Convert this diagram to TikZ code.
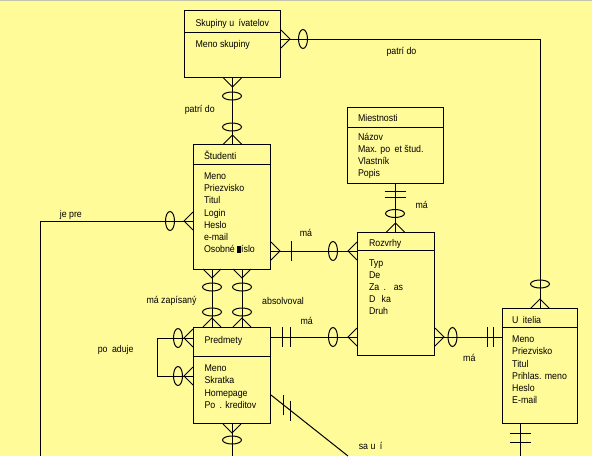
\documentclass[tikz,border=0pt]{standalone}
\usepackage{fontspec}
\setmainfont{Liberation Sans}[FakeStretch=0.9]
\definecolor{bg}{RGB}{255,251,153}
\definecolor{topline}{RGB}{196,196,170}
\newcommand{\gapch}[1]{\phantom{#1}}
\begin{document}
\begin{tikzpicture}[x=1pt,y=-1pt,line width=1pt,
  entity/.style={draw,rectangle,anchor=north west,inner sep=0pt},
  txt/.style={anchor=base west,inner sep=0pt,font=\fontsize{9.8}{12}\selectfont},
  crowL/.pic={\draw (0,-9) -- (9,0) -- (0,9);},
  crowR/.pic={\draw (0,-9) -- (-9,0) -- (0,9);},
  crowU/.pic={\draw (-9,0) -- (0,9) -- (9,0);},
  crowD/.pic={\draw (-9,0) -- (0,-9) -- (9,0);},
  ellV/.pic={\draw (0,0) ellipse [x radius=4.5,y radius=9.5];},
  ellH/.pic={\draw (0,0) ellipse [x radius=9.5,y radius=4];},
  barV/.pic={\draw (0,-10) -- (0,10);},
  barH/.pic={\draw (-10.5,0) -- (10.5,0);}
]
\fill[bg] (0,0) rectangle (592,456);
\useasboundingbox (0,0) rectangle (592,456);
\draw[topline] (0,0.5) -- (592,0.5);

% entities
\node[entity,minimum width=96pt,minimum height=67pt] (skup) at (184,10) {};
\node[entity,minimum width=77pt,minimum height=125pt] (stud) at (193,144) {};
\node[entity,minimum width=96pt,minimum height=76pt] (mies) at (347,107) {};
\node[entity,minimum width=77pt,minimum height=123pt] (rozv) at (357,232) {};
\node[entity,minimum width=77pt,minimum height=96pt] (pred) at (193,327) {};
\node[entity,minimum width=75pt,minimum height=115pt] (ucit) at (502,308) {};

% separators
\draw (skup.west |- 0,32) -- (skup.east |- 0,32);
\draw (stud.west |- 0,164) -- (stud.east |- 0,164);
\draw (mies.west |- 0,127) -- (mies.east |- 0,127);
\draw (rozv.west |- 0,250) -- (rozv.east |- 0,250);
\draw (pred.west |- 0,356) -- (pred.east |- 0,356);
\draw (ucit.west |- 0,327) -- (ucit.east |- 0,327);

% entity texts
\node[txt] (skupT) at (195,26) {Skupiny u\gapch{ž}ívatelov};
\node[txt] (skupA) at (195,47.5) {Meno skupiny};

\node[txt] (studT) at (203.5,159) {Študenti};
\foreach \t [count=\i from 0] in {Meno,Priezvisko,Titul,Login,Heslo,e-mail,{Osobné \rule{3.5pt}{6.5pt}\hspace{0.3pt}íslo}}
  \node[txt] (studA\i) at (203.5,{179.5+12.2*\i}) {\t};

\node[txt] (miesT) at (357.5,121) {Miestnosti};
\foreach \t [count=\i from 0] in {Názov,{Max. po\gapch{č}et štud.},Vlastník,Popis}
  \node[txt] (miesA\i) at (357.5,{140.7+12*\i}) {\t};

\node[txt] (rozvT) at (368.5,246) {Rozvrhy};
\foreach \t [count=\i from 0] in {Typ,{De\gapch{ň}},{Za\gapch{č}. \gapch{č}as},{D\gapch{ĺž}ka},Druh}
  \node[txt] (rozvA\i) at (368.5,{266+12.1*\i}) {\t};

\node[txt] (predT) at (204,343.3) {Predmety};
\foreach \t [count=\i from 0] in {Meno,Skratka,Homepage,{Po\gapch{č}. kreditov}}
  \node[txt] (predA\i) at (204,{371.7+12.2*\i}) {\t};

\node[txt] (ucitT) at (511.7,323.3) {U\gapch{č}itelia};
\foreach \t [count=\i from 0] in {Meno,Priezvisko,Titul,{Prihlas. meno},Heslo,E-mail}
  \node[txt] (ucitA\i) at (511.7,{342.7+12.25*\i}) {\t};

% 1 Skupiny -> Ucitelia (patri do)
\coordinate (c1) at (540,39);
\draw (skup.east |- c1) -- (c1) -- (ucit.north -| c1);
\pic at (skup.east |- c1) {crowL};
\pic at (303,39) {ellV};
\pic at (540,284) {ellH};
\pic at (ucit.north -| c1) {crowD};
\node[txt] (lab1) at (386,54.5) {patrí do};

% 2 Skupiny -> Studenti
\draw (skup.south) -- (skup.south |- stud.north);
\pic at (skup.south) {crowU};
\pic at (232,96) {ellH};
\pic at (232,127) {ellH};
\pic at (skup.south |- stud.north) {crowD};
\node[txt] (lab2) at (184.3,112) {patrí do};

% 3 Studenti je pre
\coordinate (jp) at (40.5,221);
\coordinate (jpEnd) at (40.5,456);
\draw (stud.west |- jp) -- (jp) -- (jpEnd);
\pic at (stud.west |- jp) {crowR};
\pic at (170,221) {ellV};
\node[txt] (lab3) at (59.3,217) {je pre};

% 4 Studenti -> Rozvrhy
\coordinate (m1) at (0,251);
\draw (stud.east |- m1) -- (rozv.west |- m1);
\pic at (stud.east |- m1) {crowL};
\pic at (291,251) {barV};
\pic at (333,251) {ellV};
\pic at (rozv.west |- m1) {crowR};
\node[txt] (lab4) at (299.3,236.7) {má};

% 5 Miestnosti -> Rozvrhy
\draw (mies.south) -- (mies.south |- rozv.north);
\pic at (395,191) {barH};
\pic at (395,197) {barH};
\pic at (395,213.5) {ellH};
\pic at (mies.south |- rozv.north) {crowD};
\node[txt] (lab5) at (415,208.3) {má};

% 6 Predmety -> Rozvrhy
\coordinate (m3) at (0,337);
\draw (pred.east |- m3) -- (rozv.west |- m3);
\pic at (282,337) {barV};
\pic at (290,337) {barV};
\pic at (333,337) {ellV};
\pic at (rozv.west |- m3) {crowR};
\node[txt] (lab6) at (300,324) {má};

% 7 Rozvrhy -> Ucitelia
\draw (rozv.east |- m3) -- (ucit.west |- m3);
\pic at (rozv.east |- m3) {crowL};
\pic at (452.5,337) {ellV};
\pic at (487,337) {barV};
\pic at (493.5,337) {barV};
\node[txt] (lab7) at (462.7,361.7) {má};

% 8 Studenti -> Predmety (two)
\foreach \xx in {212,242}{
  \draw (stud.south -| \xx,0) -- (pred.north -| \xx,0);
  \pic at (\xx,269) {crowU};
  \pic at (\xx,287) {ellH};
  \pic at (\xx,312) {ellH};
  \pic at (\xx,327) {crowD};
}
\node[txt] (lab8) at (146,303.5) {má zapísaný};
\node[txt] (lab9) at (261.7,304) {absolvoval};

% 9 self loop Predmety
\coordinate (pl1) at (157,338);
\coordinate (pl2) at (157,376);
\draw (pred.west |- pl1) -- (pl1) -- (pl2) -- (pred.west |- pl2);
\pic at (pred.west |- pl1) {crowR};
\pic at (pred.west |- pl2) {crowR};
\pic at (178,338) {ellV};
\pic at (178,376) {ellV};
\node[txt] (lab10) at (97.3,352) {po\gapch{ž}aduje};

% 10 Predmety bottom
\coordinate (pbEnd) at (232,456);
\draw (pred.south -| pbEnd) -- (pbEnd);
\pic at (pred.south -| pbEnd) {crowU};
\pic at (232,440) {ellH};

% 11 Predmety sa uci
\coordinate (suEnd) at (348,456);
\draw (pred.east |- 0,395) -- (suEnd);
\pic at (283.5,405.4) {barV};
\pic at (290,410.6) {barV};
\node[txt] (lab11) at (358.3,449) {sa u\gapch{č}í};

% 12 Ucitelia bottom
\coordinate (ubEnd) at (520,456);
\draw (ucit.south -| ubEnd) -- (ubEnd);
\pic at (520,433) {barH};
\pic at (520,442) {barH};
\end{tikzpicture}
\end{document}
